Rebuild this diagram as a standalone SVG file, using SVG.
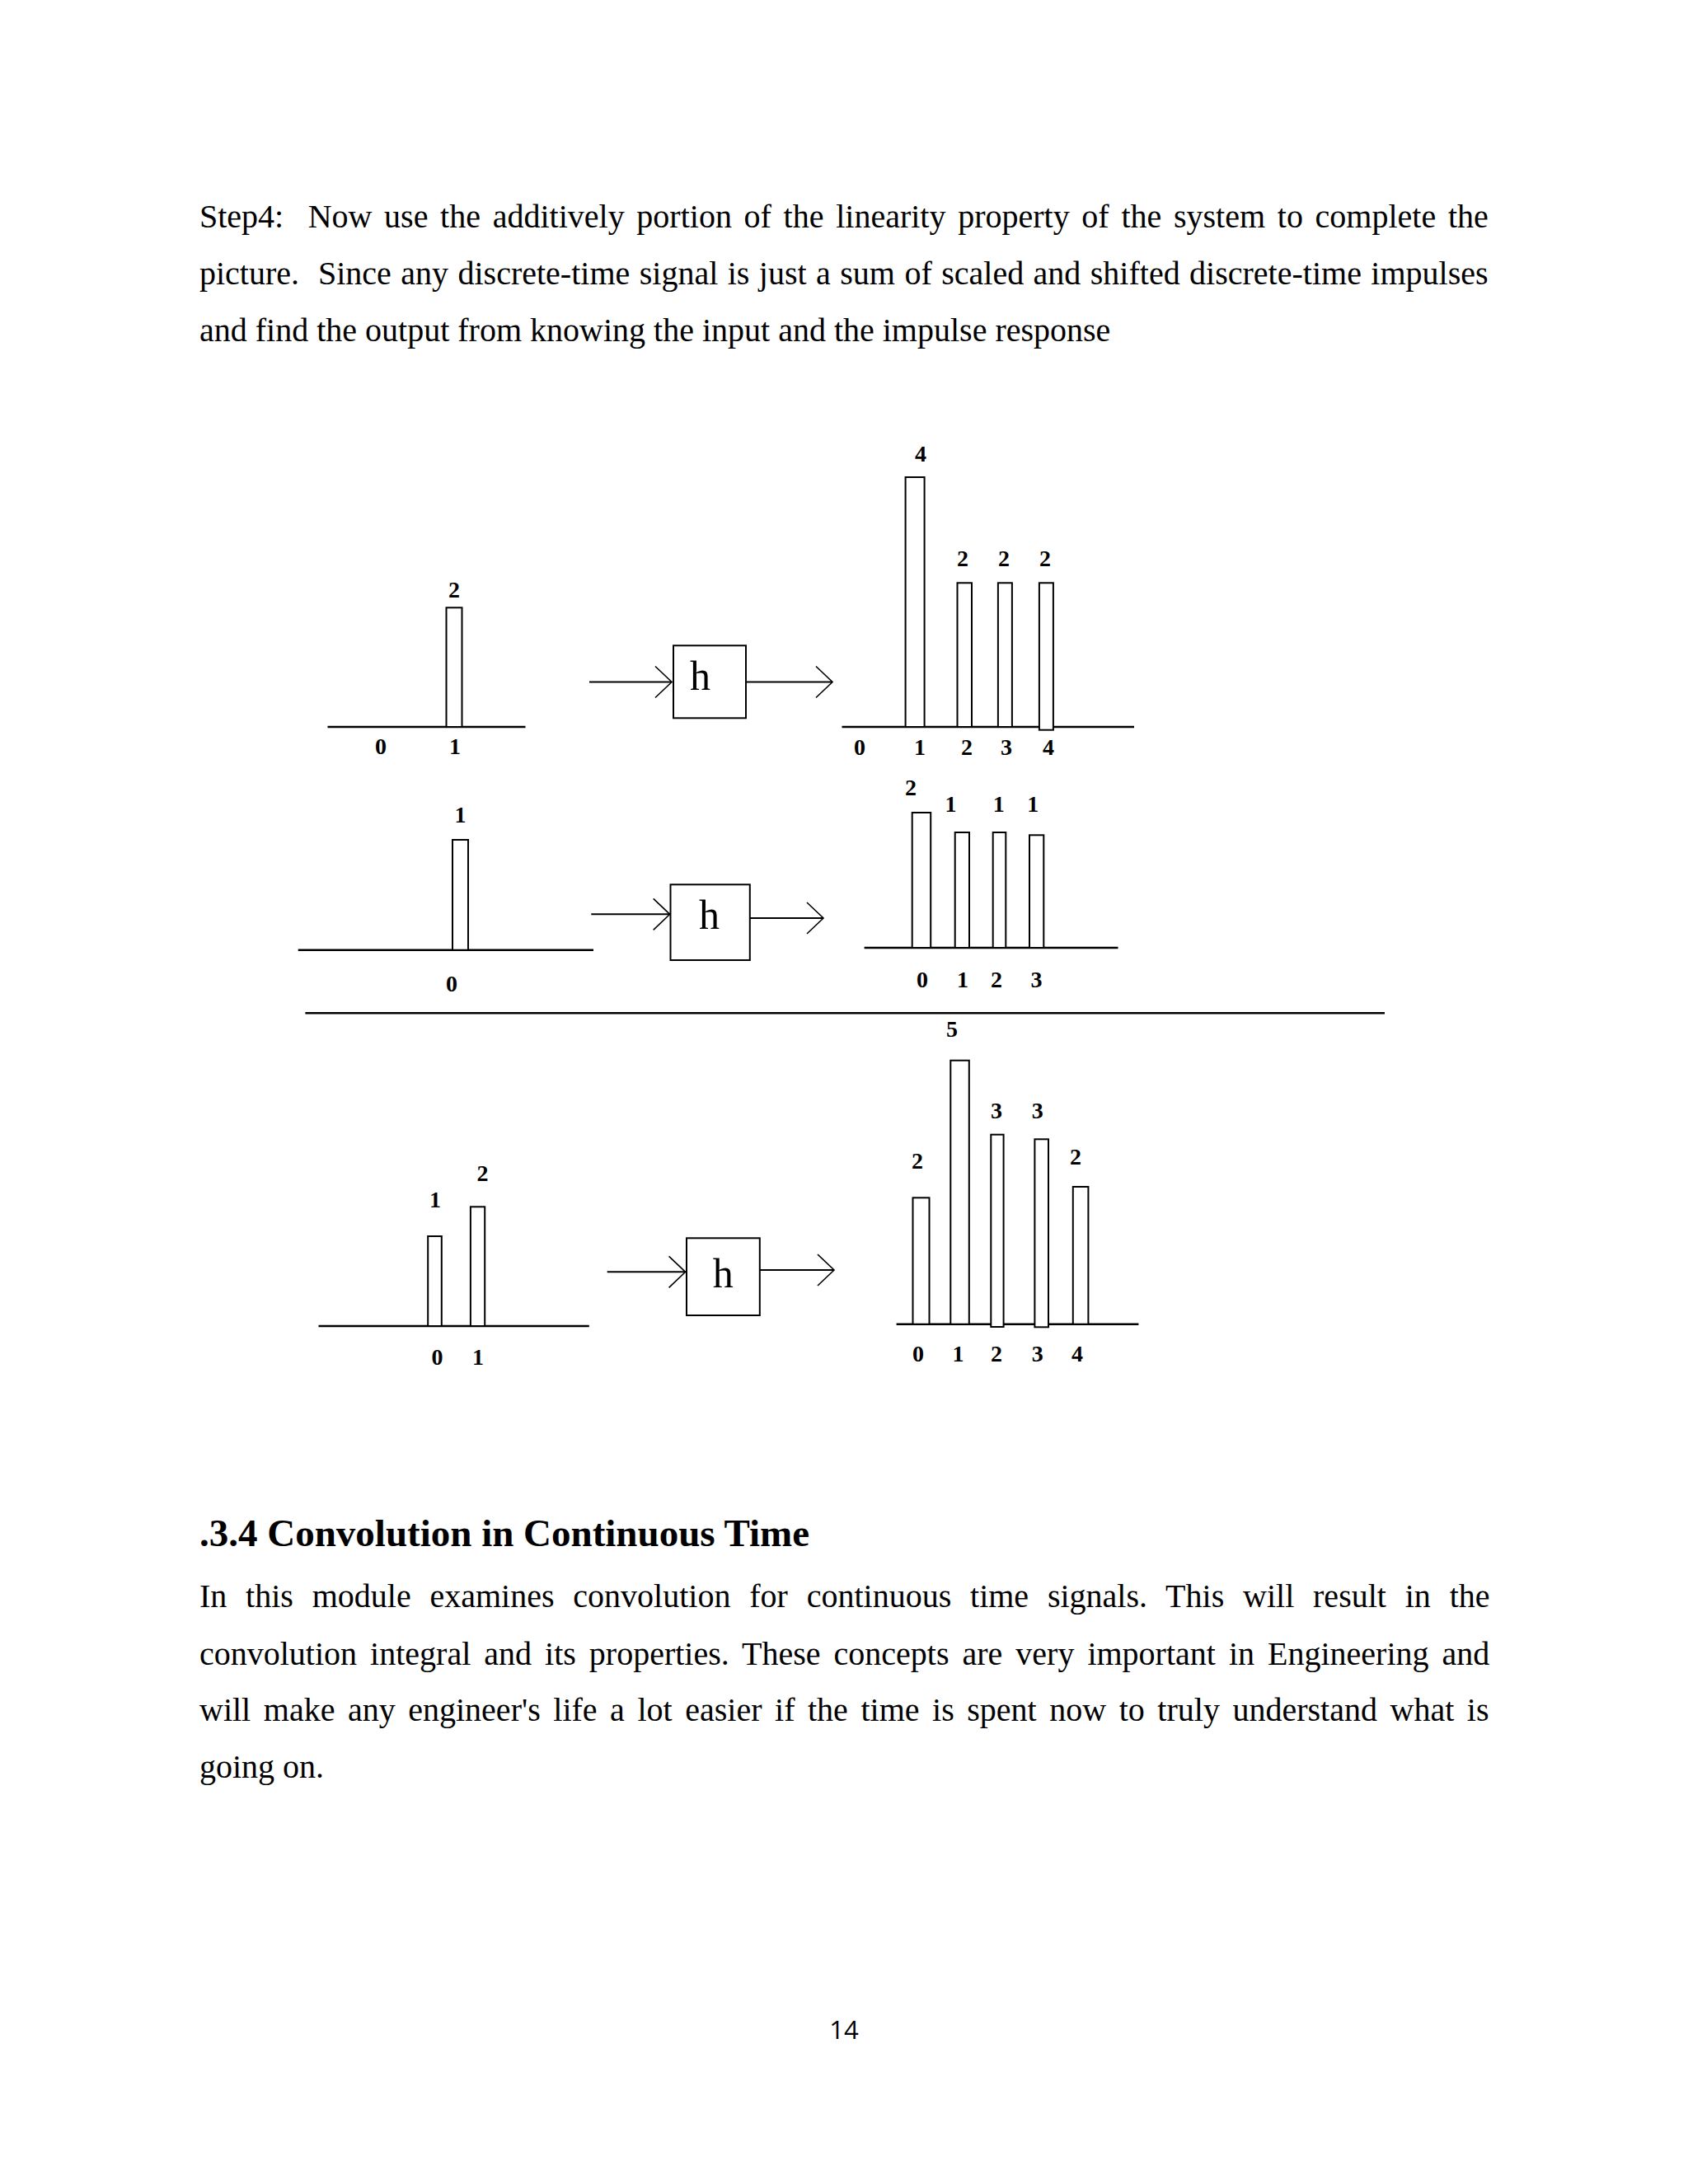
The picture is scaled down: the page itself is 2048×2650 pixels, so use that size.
<svg xmlns="http://www.w3.org/2000/svg" width="2048" height="2650" viewBox="0 0 2048 2650">
<style>
.body{font-family:"Liberation Serif","Times New Roman",serif;font-size:40px;fill:#000}
.head{font-family:"Liberation Serif","Times New Roman",serif;font-size:47px;font-weight:bold;fill:#000}
.lbl{font-family:"Liberation Serif","Times New Roman",serif;font-size:28px;font-weight:bold;fill:#000;text-anchor:middle}
.hh{font-family:"Liberation Serif","Times New Roman",serif;font-size:50px;fill:#000;text-anchor:middle}
.pg{font-family:"Open Sans","Noto Sans",sans-serif;font-size:31px;fill:#000;text-anchor:middle}
.axis{stroke:#000;stroke-width:2.5;fill:none}
.bar{stroke:#000;stroke-width:2;fill:#fff}
.box{stroke:#000;stroke-width:2;fill:#fff}
.wire{stroke:#000;stroke-width:2;fill:none}
</style>
<defs>
<marker id="open" markerUnits="userSpaceOnUse" markerWidth="30" markerHeight="50" viewBox="-25 -25 30 50" refX="0" refY="0" orient="auto">
<path d="M-20,-19 L0,0 L-20,19" fill="none" stroke="#000" stroke-width="1.6"/>
</marker>
</defs>
<rect width="2048" height="2650" fill="#fff"/>

<g id="intro">
<text class="body" x="242" y="276" xml:space="preserve" word-spacing="4.7">Step4:  Now use the additively portion of the linearity property of the system to complete the</text>
<text class="body" x="242" y="345" xml:space="preserve" word-spacing="1.45">picture.  Since any discrete-time signal is just a sum of scaled and shifted discrete-time impulses</text>
<text class="body" x="242" y="414">and find the output from knowing the input and the impulse response</text>
</g>

<g id="panel1-input">
<line class="axis" x1="397.5" y1="882" x2="637.5" y2="882"/>
<rect class="bar" x="541.5" y="737.3" width="19" height="144.7"/>
<text class="lbl" x="551" y="725">2</text>
<text class="lbl" x="462" y="915">0</text>
<text class="lbl" x="552" y="915">1</text>
</g>
<g id="system1">
<rect class="box" x="817" y="783.3" width="88" height="88"/>
<text class="hh" x="849.5" y="836.7">h</text>
</g>
<g id="panel1-output">
<line class="axis" x1="1021.5" y1="882" x2="1376" y2="882"/>
<rect class="bar" x="1098.6" y="579" width="23" height="303"/>
<rect class="bar" x="1161.5" y="707.3" width="17.5" height="174.7"/>
<rect class="bar" x="1210.9" y="707.3" width="17" height="174.7"/>
<rect class="bar" x="1260.9" y="707.3" width="17" height="178.4"/>
<text class="lbl" x="1117" y="560">4</text>
<text class="lbl" x="1168" y="687">2</text>
<text class="lbl" x="1218" y="687">2</text>
<text class="lbl" x="1268" y="687">2</text>
<text class="lbl" x="1043" y="916">0</text>
<text class="lbl" x="1116" y="916">1</text>
<text class="lbl" x="1173" y="916">2</text>
<text class="lbl" x="1221" y="916">3</text>
<text class="lbl" x="1272" y="916">4</text>
</g>

<g id="panel2-input">
<line class="axis" x1="361.7" y1="1152.7" x2="720" y2="1152.7"/>
<rect class="bar" x="549" y="1019" width="19" height="133.7"/>
<text class="lbl" x="558.6" y="998">1</text>
<text class="lbl" x="548" y="1203">0</text>
</g>
<g id="system2">
<rect class="box" x="813.5" y="1073.3" width="96.3" height="91.7"/>
<text class="hh" x="860.4" y="1126.7">h</text>
</g>
<g id="panel2-output">
<line class="axis" x1="1048.6" y1="1150" x2="1356.5" y2="1150"/>
<rect class="bar" x="1106.7" y="986" width="22.5" height="164"/>
<rect class="bar" x="1158.7" y="1010" width="17.3" height="140"/>
<rect class="bar" x="1204.7" y="1010" width="15.6" height="140"/>
<rect class="bar" x="1249" y="1013.3" width="17.3" height="136.7"/>
<text class="lbl" x="1105" y="965">2</text>
<text class="lbl" x="1153.5" y="985">1</text>
<text class="lbl" x="1211.7" y="985">1</text>
<text class="lbl" x="1253.3" y="985">1</text>
<text class="lbl" x="1119" y="1198">0</text>
<text class="lbl" x="1168" y="1198">1</text>
<text class="lbl" x="1209" y="1198">2</text>
<text class="lbl" x="1257.6" y="1198">3</text>
</g>

<g id="sum-line">
<line class="axis" x1="370.4" y1="1229.3" x2="1680" y2="1229.3"/>
</g>

<g id="panel3-input">
<line class="axis" x1="386.5" y1="1609" x2="714.8" y2="1609"/>
<rect class="bar" x="519.2" y="1500" width="16.6" height="109"/>
<rect class="bar" x="570.9" y="1464.3" width="17.3" height="144.7"/>
<text class="lbl" x="528" y="1465">1</text>
<text class="lbl" x="585.5" y="1433">2</text>
<text class="lbl" x="530.5" y="1656">0</text>
<text class="lbl" x="580" y="1656">1</text>
</g>
<g id="system3">
<rect class="box" x="833" y="1502.3" width="88.8" height="93.7"/>
<text class="hh" x="877.3" y="1561.7">h</text>
</g>
<g id="panel3-output">
<line class="axis" x1="1087.6" y1="1606.7" x2="1381.4" y2="1606.7"/>
<rect class="bar" x="1107.5" y="1453.3" width="20" height="153.4"/>
<rect class="bar" x="1153.3" y="1286.7" width="22.5" height="320"/>
<rect class="bar" x="1202.3" y="1376.7" width="15.3" height="233.3"/>
<rect class="bar" x="1255.4" y="1382.3" width="16.6" height="228"/>
<rect class="bar" x="1301.8" y="1440" width="18.6" height="166.7"/>
<text class="lbl" x="1155" y="1258">5</text>
<text class="lbl" x="1113" y="1418">2</text>
<text class="lbl" x="1209" y="1357">3</text>
<text class="lbl" x="1258.7" y="1357">3</text>
<text class="lbl" x="1305" y="1413">2</text>
<text class="lbl" x="1114" y="1652">0</text>
<text class="lbl" x="1162.6" y="1652">1</text>
<text class="lbl" x="1209" y="1652">2</text>
<text class="lbl" x="1258.7" y="1652">3</text>
<text class="lbl" x="1307" y="1652">4</text>
</g>

<g id="connectors">
<line class="wire" x1="715" y1="827.5" x2="815" y2="827.5" marker-end="url(#open)"/>
<line class="wire" x1="905" y1="827.5" x2="1010" y2="827.5" marker-end="url(#open)"/>
<line class="wire" x1="717.3" y1="1109.3" x2="812.7" y2="1109.3" marker-end="url(#open)"/>
<line class="wire" x1="909.8" y1="1114" x2="999" y2="1114" marker-end="url(#open)"/>
<line class="wire" x1="736.7" y1="1543.3" x2="831.6" y2="1543.3" marker-end="url(#open)"/>
<line class="wire" x1="921.8" y1="1541" x2="1012" y2="1541" marker-end="url(#open)"/>
</g>

<g id="section">
<text class="head" x="242" y="1876">.3.4 Convolution in Continuous Time</text>
<text class="body" x="242" y="1950" word-spacing="12.8">In this module examines convolution for continuous time signals. This will result in the</text>
<text class="body" x="242" y="2020" word-spacing="6.0">convolution integral and its properties. These concepts are very important in Engineering and</text>
<text class="body" x="242" y="2088" word-spacing="5.55">will make any engineer's life a lot easier if the time is spent now to truly understand what is</text>
<text class="body" x="242" y="2157">going on.</text>
</g>

<g id="page-number">
<text class="pg" x="1024" y="2474">14</text>
</g>
</svg>
